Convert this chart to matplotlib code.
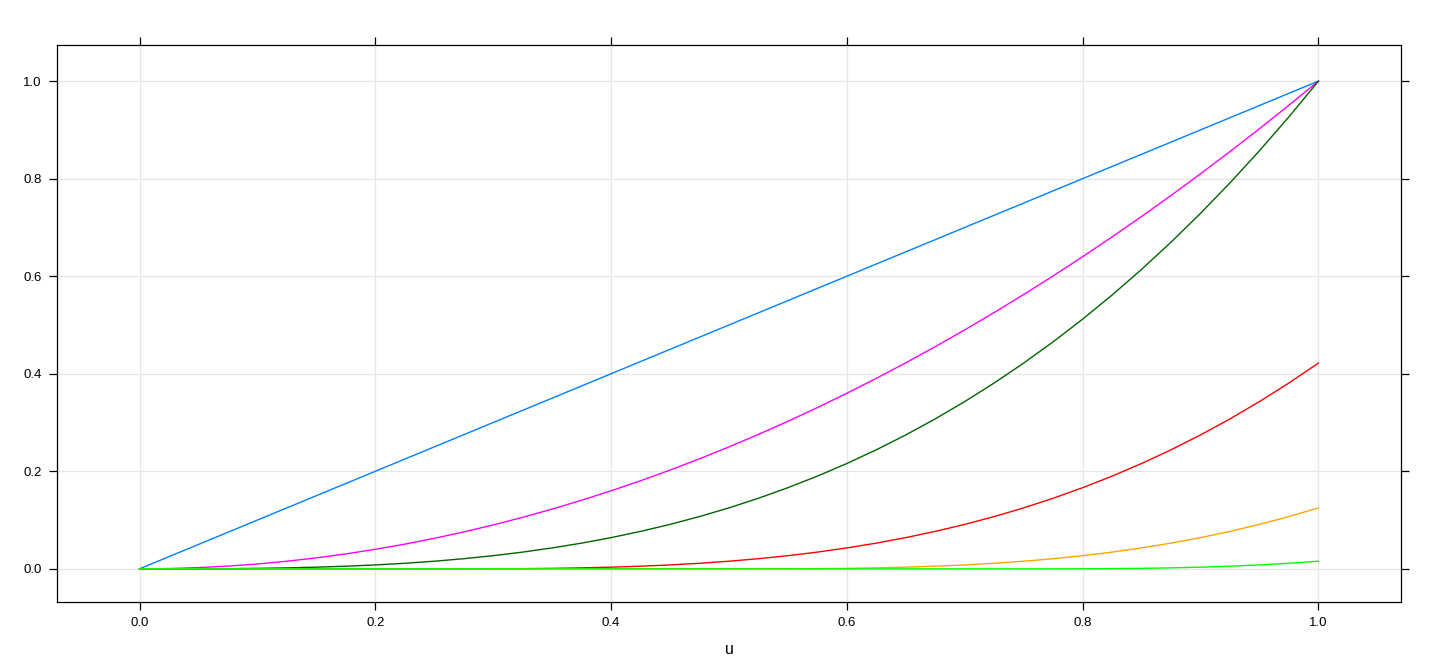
import numpy as np
import matplotlib.pyplot as plt

plt.rcParams['font.family'] = ['Liberation Sans', 'DejaVu Sans']

u = [0.0, 0.025, 0.05, 0.075, 0.1, 0.125, 0.15, 0.175, 0.2, 0.225,
     0.25, 0.275, 0.3, 0.325, 0.35, 0.375, 0.4, 0.425, 0.45, 0.475,
     0.5, 0.525, 0.55, 0.575, 0.6, 0.625, 0.65, 0.675, 0.7, 0.725,
     0.75, 0.775, 0.8, 0.825, 0.85, 0.875, 0.9, 0.925, 0.95, 0.975, 1.0]

blue = [0.0, 0.025, 0.05, 0.075, 0.1, 0.125, 0.15, 0.175, 0.2, 0.225,
        0.25, 0.275, 0.3, 0.325, 0.35, 0.375, 0.4, 0.425, 0.45, 0.475,
        0.5, 0.525, 0.55, 0.575, 0.6, 0.625, 0.65, 0.675, 0.7, 0.725,
        0.75, 0.775, 0.8, 0.825, 0.85, 0.875, 0.9, 0.925, 0.95, 0.975, 1.0]

magenta = [0.0, 0.0006, 0.0025, 0.0056, 0.01, 0.0156, 0.0225, 0.0306, 0.04, 0.0506,
           0.0625, 0.0756, 0.09, 0.1056, 0.1225, 0.1406, 0.16, 0.1806, 0.2025, 0.2256,
           0.25, 0.2756, 0.3025, 0.3306, 0.36, 0.3906, 0.4225, 0.4556, 0.49, 0.5256,
           0.5625, 0.6006, 0.64, 0.6806, 0.7225, 0.7656, 0.81, 0.8556, 0.9025, 0.9506, 1.0]

darkgreen = [0.0, 0.0, 0.0001, 0.0004, 0.001, 0.002, 0.0034, 0.0054, 0.008, 0.0114,
             0.0156, 0.0208, 0.027, 0.0343, 0.0429, 0.0527, 0.064, 0.0768, 0.0911, 0.1072,
             0.125, 0.1447, 0.1664, 0.1901, 0.216, 0.2441, 0.2746, 0.3075, 0.343, 0.3811,
             0.4219, 0.4655, 0.512, 0.5615, 0.6141, 0.6699, 0.729, 0.7915, 0.8574, 0.9269, 1.0]

red = [0.0, 0.0, 0.0, 0.0, 0.0, 0.0, 0.0, 0.0, 0.0, 0.0,
       0.0, 0.0, 0.0001, 0.0004, 0.001, 0.002, 0.0034, 0.0054, 0.008, 0.0114,
       0.0156, 0.0208, 0.027, 0.0343, 0.0429, 0.0527, 0.064, 0.0768, 0.0911, 0.1072,
       0.125, 0.1447, 0.1664, 0.1901, 0.216, 0.2441, 0.2746, 0.3075, 0.343, 0.3811, 0.4219]

orange = [0.0, 0.0, 0.0, 0.0, 0.0, 0.0, 0.0, 0.0, 0.0, 0.0,
          0.0, 0.0, 0.0, 0.0, 0.0, 0.0, 0.0, 0.0, 0.0, 0.0,
          0.0, 0.0, 0.0001, 0.0004, 0.001, 0.002, 0.0034, 0.0054, 0.008, 0.0114,
          0.0156, 0.0208, 0.027, 0.0343, 0.0429, 0.0527, 0.064, 0.0768, 0.0911, 0.1072, 0.125]

green = [0.0, 0.0, 0.0, 0.0, 0.0, 0.0, 0.0, 0.0, 0.0, 0.0,
         0.0, 0.0, 0.0, 0.0, 0.0, 0.0, 0.0, 0.0, 0.0, 0.0,
         0.0, 0.0, 0.0, 0.0, 0.0, 0.0, 0.0, 0.0, 0.0, 0.0,
         0.0, 0.0, 0.0001, 0.0004, 0.001, 0.002, 0.0034, 0.0054, 0.008, 0.0114, 0.0156]

series = [blue, magenta, darkgreen, red, orange, green]
colors = ['#0080ff', '#ff00ff', '#006400', '#ff0000', '#ffa500', '#00ff00']

ticks = [0.0, 0.2, 0.4, 0.6, 0.8, 1.0]
tick_labels = ['0.0', '0.2', '0.4', '0.6', '0.8', '1.0']

fig = plt.figure(figsize=(14.4, 6.72), dpi=100)
ax = fig.add_axes([57/1440, 1 - 602/672, (1401 - 57)/1440, (602 - 45)/672])

for x in ticks:
    ax.axvline(x, color='#e6e6e6', lw=0.9, zorder=0)
    ax.axhline(x, color='#e6e6e6', lw=0.9, zorder=0)

for ys, c in zip(series, colors):
    ax.plot(u, ys, color=c, lw=1.0)

ax.set_xlim(-0.07, 1.07)
ax.set_ylim(-0.068, 1.074)
ax.set_xticks(ticks)
ax.set_xticklabels(tick_labels)
ax.set_yticks(ticks)
ax.set_yticklabels(tick_labels)
ax.tick_params(direction='out', length=6, width=0.9, labelsize=9.5,
               top=True, right=True, labeltop=False, labelright=False, pad=5)
for s in ax.spines.values():
    s.set_linewidth(0.9)
ax.set_xlabel('u', fontsize=11.5, labelpad=9)

fig.savefig('out.png', dpi=100)
